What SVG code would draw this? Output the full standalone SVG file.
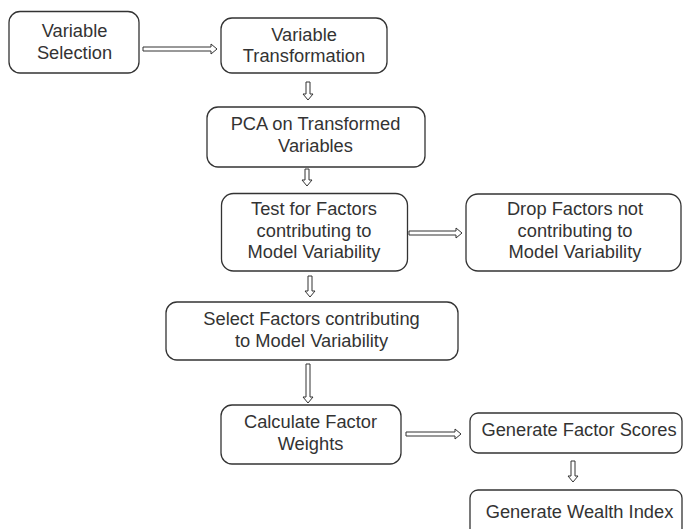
<svg xmlns="http://www.w3.org/2000/svg" width="684" height="529" viewBox="0 0 684 529">
<style>
.box{fill:#fff;stroke:#333;stroke-width:1.3}
.t{font-family:"Liberation Sans",Arial,sans-serif;font-size:18.3px;fill:#333;text-anchor:middle}
.arr{fill:#fff;stroke:#333;stroke-width:1}
</style>
<rect width="684" height="529" fill="#fff"/>
<g id="n1"><rect class="box" x="9" y="11.5" width="130" height="61.5" rx="11"/>
<text class="t" x="74.5" y="37">Variable</text><text class="t" x="74.5" y="58.5">Selection</text></g>
<g id="n2"><rect class="box" x="221" y="18" width="166" height="55" rx="11"/>
<text class="t" x="304" y="40.5">Variable</text><text class="t" x="304" y="62">Transformation</text></g>
<g id="n3"><rect class="box" x="207" y="107" width="218" height="60" rx="11"/>
<text class="t" x="315.5" y="130">PCA on Transformed</text><text class="t" x="315.5" y="152">Variables</text></g>
<g id="n4"><rect class="box" x="221.5" y="193.5" width="186" height="77.5" rx="12"/>
<text class="t" x="314" y="215">Test for Factors</text><text class="t" x="314" y="236.5">contributing to</text><text class="t" x="314" y="258">Model Variability</text></g>
<g id="n5"><rect class="box" x="466" y="194" width="215" height="77" rx="12"/>
<text class="t" x="575" y="215">Drop Factors not</text><text class="t" x="575" y="236.5">contributing to</text><text class="t" x="575" y="258">Model Variability</text></g>
<g id="n6"><rect class="box" x="166" y="302" width="292" height="58" rx="11"/>
<text class="t" x="311.5" y="325">Select Factors contributing</text><text class="t" x="311.5" y="347">to Model Variability</text></g>
<g id="n7"><rect class="box" x="221" y="405" width="180" height="59" rx="11"/>
<text class="t" x="310.5" y="428">Calculate Factor</text><text class="t" x="310.5" y="450">Weights</text></g>
<g id="n8"><rect class="box" x="470" y="413" width="212" height="40" rx="8"/>
<text class="t" x="579" y="436">Generate Factor Scores</text></g>
<g id="n9"><rect class="box" x="470" y="490" width="212" height="60" rx="8"/>
<text class="t" x="579.5" y="518">Generate Wealth Index</text></g>
<g id="connectors">
<path class="arr" d="M143,47 H211 V44 L217,49 L211,54 V51 H143 Z"/>
<path class="arr" d="M306,82 V94 H303 L308,100 L313,94 H310 V82 Z"/>
<path class="arr" d="M305,169 V180 H302 L307,186 L312,180 H309 V169 Z"/>
<path class="arr" d="M409,231 H456 V228 L462,233 L456,238 V235 H409 Z"/>
<path class="arr" d="M308,276 V291 H305 L310,297 L315,291 H312 V276 Z"/>
<path class="arr" d="M306,364 V397 H303 L308,403 L313,397 H310 V364 Z"/>
<path class="arr" d="M406,432 H455 V429 L461,434 L455,439 V436 H406 Z"/>
<path class="arr" d="M571,461 V476 H568 L573,482 L578,476 H575 V461 Z"/>
</g>
</svg>
